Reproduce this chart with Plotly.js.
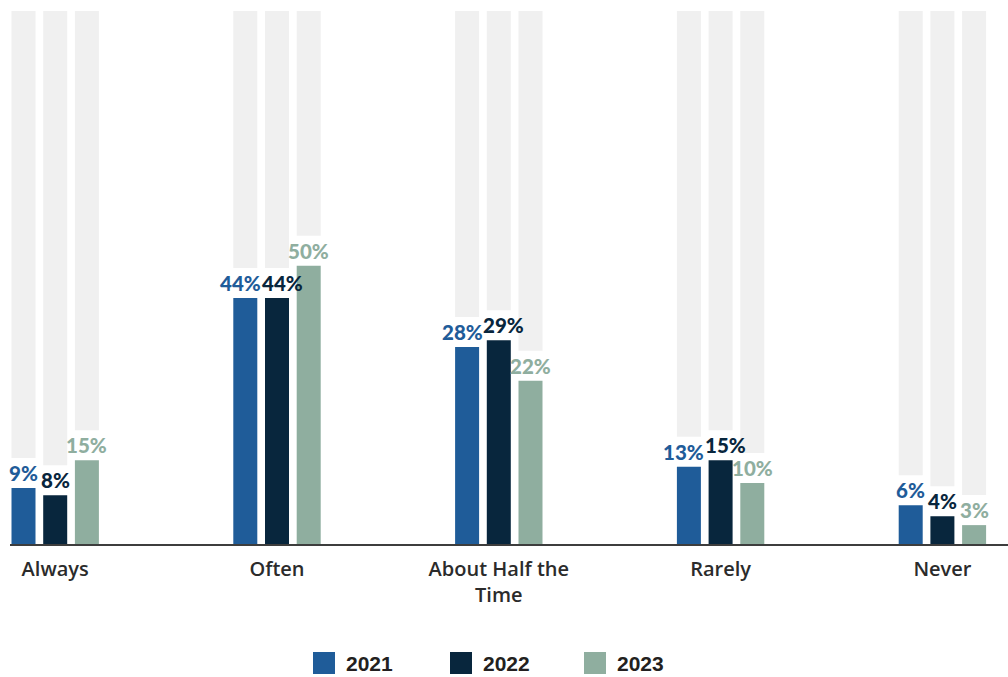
<!DOCTYPE html>
<html>
<head>
<meta charset="utf-8">
<script src="https://cdn.plot.ly/plotly-3.0.1.min.js"></script>
<style>
  html, body { margin: 0; padding: 0; background: #ffffff; }
  #chart { width: 1008px; height: 677px; }
</style>
</head>
<body>
<div id="chart"></div>
<script>
// ---- data ----
const categories = ["Always", "Often", "About Half the Time", "Rarely", "Never"];
const tickLabels = ["Always", "Often", "About Half the<br>Time", "Rarely", "Never"];
const seriesNames = ["2021", "2022", "2023"];
// bar heights as drawn
const values2021 = [10.1, 44.3, 35.5, 13.9, 7.0];
const values2022 = [8.8, 44.3, 36.7, 15.1, 5.0];
const values2023 = [15.1, 50.1, 29.4, 11.0, 3.4];
// printed labels
const labels2021 = ["9%", "44%", "28%", "13%", "6%"];
const labels2022 = ["8%", "44%", "29%", "15%", "4%"];
const labels2023 = ["15%", "50%", "22%", "10%", "3%"];
const backgroundTop = 96;

// ---- styling / layout ----
const colors = ["#1f5c99", "#08263d", "#8fae9f"];
const grayColor = "#f0f0f0";
const W = 1008, H = 677;
const M = {l: 10, r: 0, t: 11, b: 133};
const plotW = W - M.l - M.r, plotH = H - M.t - M.b;
const yMax = 96;
const unitsPerPx = yMax / plotH;
const gapUnits = 30 * unitsPerPx;
const groupStep = 221.8;   // px per category
const barPx = 24, barStepPx = 31.7;
const barW = barPx / groupStep;
const firstCenterPx = 55.2; // absolute pixel of first category centre
const xLeft = -(firstCenterPx - M.l) / groupStep;
const xRight = xLeft + plotW / groupStep;
const labelFontSize = 20.5;
const labelFamily = "Lato, 'Open Sans', sans-serif";

const allValues = [values2021, values2022, values2023];
const allLabels = [labels2021, labels2022, labels2023];
const centerOff = i => (i - 1) * (barStepPx / groupStep);

const traces = [];
// gray background bars (above the label gap)
allValues.forEach((vals, i) => {
  const base = vals.map(v => v + gapUnits);
  traces.push({
    type: "bar", x: categories, y: base.map(b => backgroundTop - b), base: base,
    offset: centerOff(i) - barW / 2, width: barW, marker: {color: grayColor, line: {width: 0}},
    hoverinfo: "skip", showlegend: false
  });
});
// data bars
allValues.forEach((vals, i) => {
  traces.push({
    type: "bar", name: seriesNames[i], x: categories, y: vals,
    offset: centerOff(i) - barW / 2, width: barW, marker: {color: colors[i], line: {width: 0}},
    hoverinfo: "skip", showlegend: false
  });
});

// value labels as annotations, nudged apart where neighbours would collide
const ctx = document.createElement("canvas").getContext("2d");
ctx.font = "900 " + labelFontSize + "px Lato";
const annotations = [];
categories.forEach((cat, g) => {
  const shifts = [0, 0, 0];
  const widths = allLabels.map(l => ctx.measureText(l[g]).width);
  for (let i = 0; i < 2; i++) {
    const dyPx = Math.abs(allValues[i][g] - allValues[i + 1][g]) / unitsPerPx;
    if (dyPx < 22) {
      const need = (widths[i] + widths[i + 1]) / 2 + 1 - barStepPx;
      if (need > 0) { shifts[i] -= need / 2; shifts[i + 1] += need / 2; }
    }
  }
  allValues.forEach((vals, i) => {
    annotations.push({xref: "x", yref: "y", x: g + centerOff(i), y: vals[g],
      xanchor: "center", yanchor: "bottom", xshift: shifts[i], yshift: 2,
      showarrow: false, text: allLabels[i][g], borderpad: 0,
      font: {family: labelFamily, size: labelFontSize, color: colors[i], weight: 900}});
  });
});

// manual legend
const px2x = px => (px - M.l) / plotW;
const py2y = py => (H - M.b - py) / plotH;
const legendX = [313, 450, 584];
const legendTop = 652, legendSize = 22, legendTextGap = 9;
const shapes = [];
seriesNames.forEach((name, i) => {
  shapes.push({type: "rect", xref: "paper", yref: "paper",
    x0: px2x(legendX[i]), x1: px2x(legendX[i] + legendSize),
    y0: py2y(legendTop + legendSize), y1: py2y(legendTop),
    fillcolor: colors[i], line: {width: 0}});
  annotations.push({xref: "paper", yref: "paper",
    x: px2x(legendX[i] + legendSize + legendTextGap), y: py2y(legendTop + legendSize / 2 + 0.5),
    xanchor: "left", yanchor: "middle", showarrow: false, text: name,
    font: {family: "'Liberation Sans', Arial, sans-serif", size: 21, color: "#231f20", weight: "bold"}});
});

const layout = {
  width: W, height: H, margin: M,
  paper_bgcolor: "#ffffff", plot_bgcolor: "#ffffff",
  barmode: "overlay", showlegend: false,
  xaxis: {type: "category", range: [xLeft, xRight], autorange: false,
    tickmode: "array", tickvals: categories, ticktext: tickLabels,
    tickfont: {family: "'Open Sans', sans-serif", size: 20, color: "#2b2b2b", weight: 600},
    ticklabelstandoff: 6,
    showline: true, linecolor: "#3d3d3d", linewidth: 1.5, showgrid: false, zeroline: false,
    ticks: "", fixedrange: true},
  yaxis: {range: [0, yMax], autorange: false, visible: false, fixedrange: true},
  shapes: shapes, annotations: annotations
};

Plotly.newPlot("chart", traces, layout, {displayModeBar: false, staticPlot: true});
</script>
</body>
</html>
